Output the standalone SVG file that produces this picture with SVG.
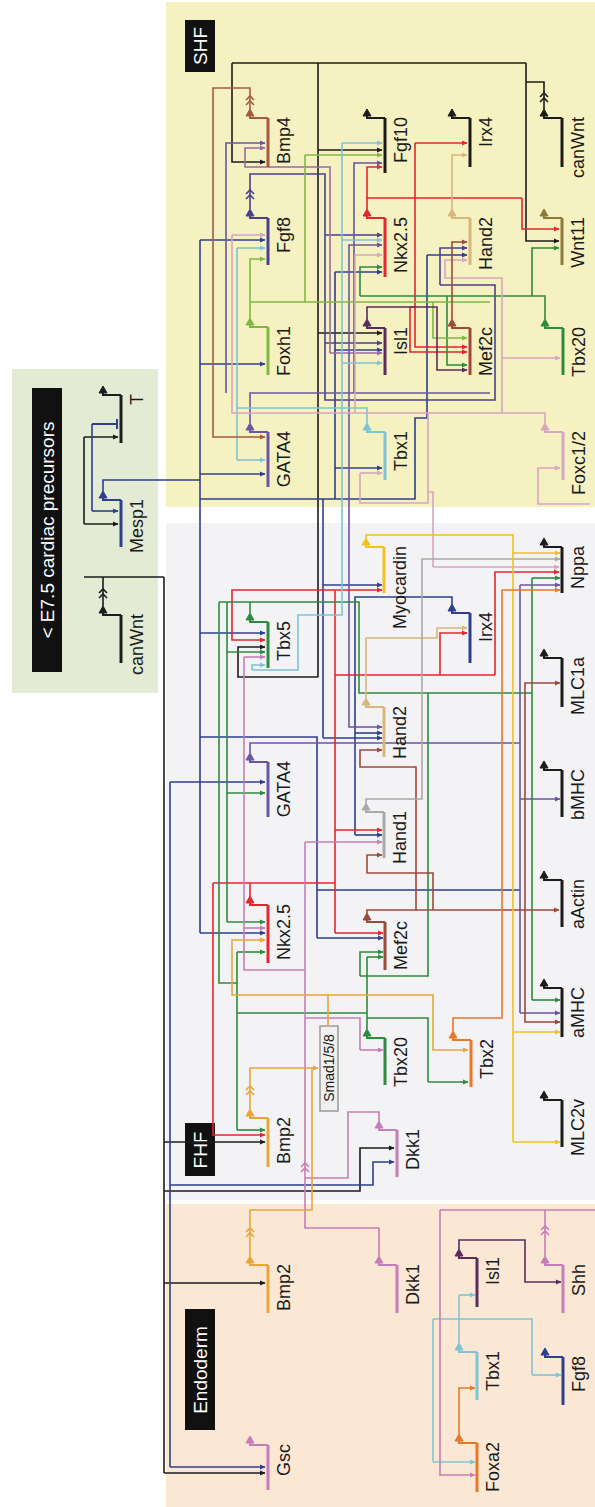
<svg xmlns="http://www.w3.org/2000/svg" width="595" height="1507" viewBox="0 0 595 1507">
<style>
text{font-family:"Liberation Sans",Arial,sans-serif;font-size:18px;fill:#1a1a1a;stroke:none}
.lbl{text-anchor:end}
.hd{font-size:19px;fill:#fff;text-anchor:middle}
.bar{stroke-width:3;fill:none}
.pr{stroke-width:2;fill:none}
#connectors path,#connectors polyline{fill:none;stroke-width:1.6}
.n-k{stroke:#1c1c1c;fill:#1c1c1c}.n-nv{stroke:#2e3f8c;fill:#2e3f8c}.n-fg{stroke:#4b3f8f;fill:#4b3f8f}
.n-pu{stroke:#6a55a3;fill:#6a55a3}.n-rd{stroke:#e3262f;fill:#e3262f}.n-gr{stroke:#2e8b3e;fill:#2e8b3e}
.n-lg{stroke:#80b843;fill:#80b843}.n-lb{stroke:#7fc4d6;fill:#7fc4d6}.n-pk{stroke:#c77db5;fill:#c77db5}
.n-lp{stroke:#d7a6bf;fill:#d7a6bf}.n-br{stroke:#9c4a3c;fill:#9c4a3c}.n-bb{stroke:#a65a3f;fill:#a65a3f}
.n-tn{stroke:#d6b77c;fill:#d6b77c}.n-gy{stroke:#a9a9a9;fill:#a9a9a9}.n-ye{stroke:#efc21c;fill:#efc21c}
.n-or{stroke:#e9a637;fill:#e9a637}.n-oo{stroke:#e5782a;fill:#e5782a}.n-ol{stroke:#8f7a3a;fill:#8f7a3a}
.n-dp{stroke:#5b2c5e;fill:#5b2c5e}
.c-k{stroke:#1c1c1c}.c-k .a{marker-end:url(#m-k)}
.c-nv{stroke:#2e3f8c}.c-nv .a{marker-end:url(#m-nv)}
.c-fg{stroke:#4b3f8f}.c-fg .a{marker-end:url(#m-fg)}
.c-mv{stroke:#9a6aa6}.c-mv .a{marker-end:url(#m-mv)}
.c-pu{stroke:#6a55a3}.c-pu .a{marker-end:url(#m-pu)}
.c-rd{stroke:#e3262f}.c-rd .a{marker-end:url(#m-rd)}
.c-gr{stroke:#2e8b3e}.c-gr .a{marker-end:url(#m-gr)}
.c-lg{stroke:#80b843}.c-lg .a{marker-end:url(#m-lg)}
.c-lb{stroke:#7fc4d6}.c-lb .a{marker-end:url(#m-lb)}
.c-lp{stroke:#d7a6bf}.c-lp .a{marker-end:url(#m-lp)}
.c-pk{stroke:#c77db5}.c-pk .a{marker-end:url(#m-pk)}
.c-br{stroke:#9c4a3c}.c-br .a{marker-end:url(#m-br)}
.c-bb{stroke:#a65a3f}.c-bb .a{marker-end:url(#m-bb)}
.c-tn{stroke:#d6b77c}.c-tn .a{marker-end:url(#m-tn)}
.c-gy{stroke:#a9a9a9}.c-gy .a{marker-end:url(#m-gy)}
.c-dp{stroke:#5b2c5e}.c-dp .a{marker-end:url(#m-dp)}
.c-ye{stroke:#efc21c}.c-ye .a{marker-end:url(#m-ye)}
.c-oo{stroke:#e5782a}.c-oo .a{marker-end:url(#m-oo)}
.c-or{stroke:#e9a637}.c-or .a{marker-end:url(#m-or)}
</style>
<defs>
<marker id="m-k" viewBox="0 0 6 6" refX="5.5" refY="3" markerWidth="6" markerHeight="6" markerUnits="userSpaceOnUse" orient="auto"><path d="M0,0.4L6,3L0,5.6Z" fill="#1c1c1c"/></marker>
<marker id="m-nv" viewBox="0 0 6 6" refX="5.5" refY="3" markerWidth="6" markerHeight="6" markerUnits="userSpaceOnUse" orient="auto"><path d="M0,0.4L6,3L0,5.6Z" fill="#2e3f8c"/></marker>
<marker id="m-fg" viewBox="0 0 6 6" refX="5.5" refY="3" markerWidth="6" markerHeight="6" markerUnits="userSpaceOnUse" orient="auto"><path d="M0,0.4L6,3L0,5.6Z" fill="#4b3f8f"/></marker>
<marker id="m-mv" viewBox="0 0 6 6" refX="5.5" refY="3" markerWidth="6" markerHeight="6" markerUnits="userSpaceOnUse" orient="auto"><path d="M0,0.4L6,3L0,5.6Z" fill="#9a6aa6"/></marker>
<marker id="m-pu" viewBox="0 0 6 6" refX="5.5" refY="3" markerWidth="6" markerHeight="6" markerUnits="userSpaceOnUse" orient="auto"><path d="M0,0.4L6,3L0,5.6Z" fill="#6a55a3"/></marker>
<marker id="m-rd" viewBox="0 0 6 6" refX="5.5" refY="3" markerWidth="6" markerHeight="6" markerUnits="userSpaceOnUse" orient="auto"><path d="M0,0.4L6,3L0,5.6Z" fill="#e3262f"/></marker>
<marker id="m-gr" viewBox="0 0 6 6" refX="5.5" refY="3" markerWidth="6" markerHeight="6" markerUnits="userSpaceOnUse" orient="auto"><path d="M0,0.4L6,3L0,5.6Z" fill="#2e8b3e"/></marker>
<marker id="m-lg" viewBox="0 0 6 6" refX="5.5" refY="3" markerWidth="6" markerHeight="6" markerUnits="userSpaceOnUse" orient="auto"><path d="M0,0.4L6,3L0,5.6Z" fill="#80b843"/></marker>
<marker id="m-lb" viewBox="0 0 6 6" refX="5.5" refY="3" markerWidth="6" markerHeight="6" markerUnits="userSpaceOnUse" orient="auto"><path d="M0,0.4L6,3L0,5.6Z" fill="#7fc4d6"/></marker>
<marker id="m-lp" viewBox="0 0 6 6" refX="5.5" refY="3" markerWidth="6" markerHeight="6" markerUnits="userSpaceOnUse" orient="auto"><path d="M0,0.4L6,3L0,5.6Z" fill="#d7a6bf"/></marker>
<marker id="m-pk" viewBox="0 0 6 6" refX="5.5" refY="3" markerWidth="6" markerHeight="6" markerUnits="userSpaceOnUse" orient="auto"><path d="M0,0.4L6,3L0,5.6Z" fill="#c77db5"/></marker>
<marker id="m-br" viewBox="0 0 6 6" refX="5.5" refY="3" markerWidth="6" markerHeight="6" markerUnits="userSpaceOnUse" orient="auto"><path d="M0,0.4L6,3L0,5.6Z" fill="#9c4a3c"/></marker>
<marker id="m-bb" viewBox="0 0 6 6" refX="5.5" refY="3" markerWidth="6" markerHeight="6" markerUnits="userSpaceOnUse" orient="auto"><path d="M0,0.4L6,3L0,5.6Z" fill="#a65a3f"/></marker>
<marker id="m-tn" viewBox="0 0 6 6" refX="5.5" refY="3" markerWidth="6" markerHeight="6" markerUnits="userSpaceOnUse" orient="auto"><path d="M0,0.4L6,3L0,5.6Z" fill="#d6b77c"/></marker>
<marker id="m-gy" viewBox="0 0 6 6" refX="5.5" refY="3" markerWidth="6" markerHeight="6" markerUnits="userSpaceOnUse" orient="auto"><path d="M0,0.4L6,3L0,5.6Z" fill="#a9a9a9"/></marker>
<marker id="m-dp" viewBox="0 0 6 6" refX="5.5" refY="3" markerWidth="6" markerHeight="6" markerUnits="userSpaceOnUse" orient="auto"><path d="M0,0.4L6,3L0,5.6Z" fill="#5b2c5e"/></marker>
<marker id="m-ye" viewBox="0 0 6 6" refX="5.5" refY="3" markerWidth="6" markerHeight="6" markerUnits="userSpaceOnUse" orient="auto"><path d="M0,0.4L6,3L0,5.6Z" fill="#efc21c"/></marker>
<marker id="m-oo" viewBox="0 0 6 6" refX="5.5" refY="3" markerWidth="6" markerHeight="6" markerUnits="userSpaceOnUse" orient="auto"><path d="M0,0.4L6,3L0,5.6Z" fill="#e5782a"/></marker>
<marker id="m-or" viewBox="0 0 6 6" refX="5.5" refY="3" markerWidth="6" markerHeight="6" markerUnits="userSpaceOnUse" orient="auto"><path d="M0,0.4L6,3L0,5.6Z" fill="#e9a637"/></marker>
</defs>

<g id="regions">
<rect x="166" y="2" width="429" height="505" fill="#f5f1c1"/>
<rect x="166" y="523" width="429" height="677" fill="#f3f3f5"/>
<rect x="166" y="1204" width="429" height="303" fill="#fbe8d4"/>
<rect x="12" y="369" width="146" height="324" fill="#e3ebd5"/>
</g>

<g id="headers">
<g id="hd-shf"><rect x="185" y="20" width="30" height="52" fill="#111"/><text class="hd" transform="translate(207,46) rotate(-90)">SHF</text></g>
<g id="hd-e75"><rect x="32" y="388" width="30" height="284" fill="#111"/><text class="hd" transform="translate(54,530) rotate(-90)">&lt; E7.5 cardiac precursors</text></g>
<g id="hd-fhf"><rect x="185" y="1123" width="30" height="53" fill="#111"/><text class="hd" transform="translate(207,1150) rotate(-90)">FHF</text></g>
<g id="hd-endo"><rect x="185" y="1309" width="30" height="121" fill="#111"/><text class="hd" transform="translate(207,1370) rotate(-90)">Endoderm</text></g>
<g id="smad"><rect x="320" y="1026" width="18" height="85" fill="#f0f0f0" stroke="#9a9a9a" stroke-width="1.5"/><text transform="translate(334,1068) rotate(-90)" style="font-size:14px;text-anchor:middle">Smad1/5/8</text></g>
</g>

<g id="connectors">
<g class="c-k">
<path d="M544,109V82H526M526,63H232M318,63V677M103,606V577M84,577H164M84,437V524M164,577V1473"/>
<path class="a" d="M526,63V241H559"/><path class="a" d="M232,63V162H265"/>
<path class="a" d="M318,150H382"/><path class="a" d="M318,333H382"/>
<path class="a" d="M318,677H238V647H265"/><path class="a" d="M84,437H118"/><path class="a" d="M84,524H118"/>
<path class="a" d="M164,1473H265"/><path class="a" d="M164,1142H265"/><path class="a" d="M164,1191H360V1148H394"/><path class="a" d="M164,1283H265"/>
<polyline points="540,97 544,93 548,97"/><polyline points="540,102 544,98 548,102"/>
<polyline points="99,593 103,589 107,593"/><polyline points="99,598 103,594 107,598"/>
</g>
<g class="c-nv">
<path d="M103,491V480H200M200,240V933M92,424V511M200,499H415V418H427V255M335,499V272M323,499V738M170,782V1467M200,737H317V938M452,604V597H355V835M317,890H520"/>
<path class="a" d="M200,240H265"/><path class="a" d="M200,364H265"/><path class="a" d="M200,474H265"/>
<path class="a" d="M200,633H265"/><path class="a" d="M200,933H265"/><path class="a" d="M92,511H118"/>
<path class="a" d="M427,255H467"/><path class="a" d="M335,272H382"/><path class="a" d="M335,350H382"/><path class="a" d="M335,468H382"/>
<path class="a" d="M323,585H382"/><path class="a" d="M323,738H382"/><path class="a" d="M317,938H383"/>
<path class="a" d="M170,1467H265"/><path class="a" d="M170,782H265"/><path class="a" d="M170,1185H373V1162H394"/>
<path class="a" d="M355,835H382"/><path class="a" d="M355,733H382"/>
<path d="M92,424H117M117,419V429" style="stroke-width:2"/>
</g>
<g class="c-fg">
<path d="M250,209V174H325V400H495V285H440"/>
<path class="a" d="M440,285V248H467"/><path class="a" d="M325,235H382"/><path class="a" d="M325,343H382"/>
<polyline points="246,194 250,190 254,194"/><polyline points="246,199 250,195 254,199"/>
</g>
<g class="c-mv">
<path class="a" d="M330,353V167H245V148H265"/><path class="a" d="M330,353H382"/>
</g>
<g class="c-pu">
<path d="M250,423V393H490M250,753V743H520M520,585V1013"/>
<path class="a" d="M226,393V143H265"/><path class="a" d="M349,393V245H382"/><path class="a" d="M354,393V163H382"/>
<path class="a" d="M349,393V727H382"/><path class="a" d="M520,585H560"/><path class="a" d="M520,799H560"/><path class="a" d="M520,1013H560"/>
</g>
<g class="c-rd">
<path d="M367,209V198H522M415,198V143M250,896V883H335M335,590V933M250,883H213M415,307H410M335,675H495"/>
<path class="a" d="M367,198V167H382"/><path class="a" d="M522,198V229H559"/><path class="a" d="M415,143H467"/>
<path class="a" d="M415,198V347H467"/><path class="a" d="M410,307V352H467"/><path class="a" d="M213,883V1135H265"/>
<path class="a" d="M335,933H383"/><path class="a" d="M335,590H382"/><path class="a" d="M335,590H232V640H265"/>
<path class="a" d="M335,830H382"/><path class="a" d="M495,675V572H559"/><path class="a" d="M440,675V633H467"/>
</g>
<g class="c-gr">
<path d="M545,319V296H360M250,613V602M219,602H359V693H532M227,602V922M237,952V1130M367,1029V957M428,693V976H360M532,578V1000M219,602V983H237M237,1013H367M367,1018H428V1082"/>
<path class="a" d="M360,296V267H382"/><path class="a" d="M532,296V248H559"/><path class="a" d="M447,296V365H467"/>
<path class="a" d="M227,922H265"/><path class="a" d="M227,793H265"/><path class="a" d="M227,652H265"/>
<path class="a" d="M237,952H265"/><path class="a" d="M237,1130H265"/><path class="a" d="M367,957H383"/>
<path class="a" d="M360,976V952H383"/><path class="a" d="M532,578H560"/><path class="a" d="M532,1000H560"/><path class="a" d="M428,1082H468"/>
</g>
<g class="c-lg">
<path d="M250,302H490M305,302V155"/>
<path class="a" d="M250,318V259H265"/><path class="a" d="M305,155H382"/><path class="a" d="M433,302V338H467"/>
</g>
<g class="c-lb">
<path d="M367,423V408H237M342,408V143M342,408V615H298V670H252M237,248V460M459,1343V1295M433,1319H532V1375M433,1319V1462"/>
<path class="a" d="M237,248H265"/><path class="a" d="M237,460H265"/><path class="a" d="M342,143H382"/>
<path class="a" d="M342,240H382"/><path class="a" d="M342,363H382"/><path class="a" d="M252,670V665H265"/>
<path class="a" d="M459,1295H475"/><path class="a" d="M532,1375H561"/><path class="a" d="M433,1462H475"/>
</g>
<g class="c-lp">
<path d="M545,423V413H232V235M428,413V492H433V567M428,413V503H360V473"/>
<path class="a" d="M232,235H265"/><path class="a" d="M433,567H559"/><path class="a" d="M360,473H382"/>
<path class="a" d="M355,413V255H382"/><path class="a" d="M502,413V358H560"/><path class="a" d="M590,504H538V468H560"/>
<path class="a" d="M502,358V278H445V260H467"/>
</g>
<g class="c-pk">
<path d="M379,1256V1228H305V842M305,970H244V657M379,1121V1112H348V1178H305M545,1256V1210H440M545,1210H595M305,1018H360V1050"/>
<path class="a" d="M305,842H382"/><path class="a" d="M244,657H265"/><path class="a" d="M244,928H265"/>
<path class="a" d="M360,1050H383"/><path class="a" d="M440,1210V1475H475"/>
<polyline points="301,1167 305,1163 309,1167"/><polyline points="301,1172 305,1168 309,1172"/>
<polyline points="541,1230 545,1226 549,1230"/><polyline points="541,1235 545,1231 549,1235"/>
</g>
<g class="c-br">
<path class="a" d="M452,319V242H467"/><path class="a" d="M367,913V910H559"/>
<path class="a" d="M416,910V767H360V750H382"/><path class="a" d="M525,910V683H560"/>
<path class="a" d="M525,910V1022H560"/><path class="a" d="M433,910V873H367V855H382"/>
</g>
<g class="c-bb">
<path class="a" d="M250,109V88H213V437H265"/>
<polyline points="246,100 250,96 254,100"/><polyline points="246,105 250,101 254,105"/>
</g>
<g class="c-tn">
<path class="a" d="M452,209V155H467"/><path class="a" d="M366,698V638H437V628H467"/>
</g>
<g class="c-gy"><path class="a" d="M366,803V799H422V559H560"/></g>
<g class="c-dp">
<path class="a" d="M367,319V307H437V370H467"/><path class="a" d="M459,1249V1240H525V1282H561"/>
</g>
<g class="c-ye">
<path d="M366,538V535H513V1142"/>
<path class="a" d="M513,1142H560"/><path class="a" d="M513,553H560"/><path class="a" d="M513,1032H560"/>
</g>
<g class="c-oo">
<path class="a" d="M453,1031V1018H502V590H560"/><path class="a" d="M459,1434V1388H475"/>
</g>
<g class="c-or">
<path class="a" d="M250,1109V1068H318"/><path d="M250,1256V1210H312V1068"/>
<path class="a" d="M328,1026V995H232V940H265"/><path class="a" d="M328,995H433V1050H468"/>
<polyline points="246,1090 250,1086 254,1090"/><polyline points="246,1095 250,1091 254,1095"/>
<polyline points="246,1232 250,1228 254,1232"/><polyline points="246,1237 250,1233 254,1237"/>
</g>
</g>

<g id="nodes">
<g id="shf-bmp4" class="n-bb"><path class="bar" d="M268,118V167"/><path class="pr" d="M268,118H250V114"/><path d="M250,109L246,116L254,116Z"/><text class="lbl" transform="translate(290,117) rotate(-90)">Bmp4</text></g>
<g id="shf-fgf8" class="n-fg"><path class="bar" d="M268,218V265"/><path class="pr" d="M268,218H250V214"/><path d="M250,209L246,216L254,216Z"/><text class="lbl" transform="translate(290,217) rotate(-90)">Fgf8</text></g>
<g id="shf-foxh1" class="n-lg"><path class="bar" d="M268,327V375"/><path class="pr" d="M268,327H250V323"/><path d="M250,318L246,325L254,325Z"/><text class="lbl" transform="translate(290,326) rotate(-90)">Foxh1</text></g>
<g id="shf-gata4" class="n-pu"><path class="bar" d="M268,432V487"/><path class="pr" d="M268,432H250V428"/><path d="M250,423L246,430L254,430Z"/><text class="lbl" transform="translate(290,431) rotate(-90)">GATA4</text></g>
<g id="shf-fgf10" class="n-k"><path class="bar" d="M385,118V173"/><path class="pr" d="M385,118H367V114"/><path d="M367,109L363,116L371,116Z"/><text class="lbl" transform="translate(407,117) rotate(-90)">Fgf10</text></g>
<g id="shf-nkx25" class="n-rd"><path class="bar" d="M385,218V277"/><path class="pr" d="M385,218H367V214"/><path d="M367,209L363,216L371,216Z"/><text class="lbl" transform="translate(407,217) rotate(-90)">Nkx2.5</text></g>
<g id="shf-isl1" class="n-dp"><path class="bar" d="M385,328V375"/><path class="pr" d="M385,328H367V324"/><path d="M367,319L363,326L371,326Z"/><text class="lbl" transform="translate(407,327) rotate(-90)">Isl1</text></g>
<g id="shf-tbx1" class="n-lb"><path class="bar" d="M385,432V480"/><path class="pr" d="M385,432H367V428"/><path d="M367,423L363,430L371,430Z"/><text class="lbl" transform="translate(407,431) rotate(-90)">Tbx1</text></g>
<g id="shf-irx4" class="n-k"><path class="bar" d="M470,118V167"/><path class="pr" d="M470,118H452V114"/><path d="M452,109L448,116L456,116Z"/><text class="lbl" transform="translate(492,117) rotate(-90)">Irx4</text></g>
<g id="shf-hand2" class="n-tn"><path class="bar" d="M470,218V265"/><path class="pr" d="M470,218H452V214"/><path d="M452,209L448,216L456,216Z"/><text class="lbl" transform="translate(492,217) rotate(-90)">Hand2</text></g>
<g id="shf-mef2c" class="n-br"><path class="bar" d="M470,328V375"/><path class="pr" d="M470,328H452V324"/><path d="M452,319L448,326L456,326Z"/><text class="lbl" transform="translate(492,327) rotate(-90)">Mef2c</text></g>
<g id="shf-canwnt" class="n-k"><path class="bar" d="M562,118V167"/><path class="pr" d="M562,118H544V114"/><path d="M544,109L540,116L548,116Z"/><text class="lbl" transform="translate(584,117) rotate(-90)">canWnt</text></g>
<g id="shf-wnt11" class="n-ol"><path class="bar" d="M562,218V265"/><path class="pr" d="M562,218H544V214"/><path d="M544,209L540,216L548,216Z"/><text class="lbl" transform="translate(584,217) rotate(-90)">Wnt11</text></g>
<g id="shf-tbx20" class="n-gr"><path class="bar" d="M563,328V375"/><path class="pr" d="M563,328H545V324"/><path d="M545,319L541,326L549,326Z"/><text class="lbl" transform="translate(585,327) rotate(-90)">Tbx20</text></g>
<g id="shf-foxc12" class="n-lp"><path class="bar" d="M563,432V480"/><path class="pr" d="M563,432H545V428"/><path d="M545,423L541,430L549,430Z"/><text class="lbl" transform="translate(585,431) rotate(-90)">Foxc1/2</text></g>

<g id="pre-t" class="n-k"><path class="bar" d="M121,395V443"/><path class="pr" d="M121,395H103V391"/><path d="M103,386L99,393L107,393Z"/><text class="lbl" transform="translate(143,394) rotate(-90)">T</text></g>
<g id="pre-mesp1" class="n-nv"><path class="bar" d="M121,500V547"/><path class="pr" d="M121,500H103V496"/><path d="M103,491L99,498L107,498Z"/><text class="lbl" transform="translate(143,499) rotate(-90)">Mesp1</text></g>
<g id="pre-canwnt" class="n-k"><path class="bar" d="M121,615V663"/><path class="pr" d="M121,615H103V611"/><path d="M103,606L99,613L107,613Z"/><text class="lbl" transform="translate(143,614) rotate(-90)">canWnt</text></g>

<g id="fhf-tbx5" class="n-gr"><path class="bar" d="M268,622V668"/><path class="pr" d="M268,622H250V618"/><path d="M250,613L246,620L254,620Z"/><text class="lbl" transform="translate(290,621) rotate(-90)">Tbx5</text></g>
<g id="fhf-gata4" class="n-pu"><path class="bar" d="M268,762V817"/><path class="pr" d="M268,762H250V758"/><path d="M250,753L246,760L254,760Z"/><text class="lbl" transform="translate(290,761) rotate(-90)">GATA4</text></g>
<g id="fhf-nkx25" class="n-rd"><path class="bar" d="M268,905V963"/><path class="pr" d="M268,905H250V901"/><path d="M250,896L246,903L254,903Z"/><text class="lbl" transform="translate(290,904) rotate(-90)">Nkx2.5</text></g>
<g id="fhf-bmp2" class="n-or"><path class="bar" d="M268,1118V1167"/><path class="pr" d="M268,1118H250V1114"/><path d="M250,1109L246,1116L254,1116Z"/><text class="lbl" transform="translate(290,1117) rotate(-90)">Bmp2</text></g>
<g id="fhf-myocardin" class="n-ye"><path class="bar" d="M384,547V593"/><path class="pr" d="M384,547H366V543"/><path d="M366,538L362,545L370,545Z"/><text class="lbl" transform="translate(406,546) rotate(-90)">Myocardin</text></g>
<g id="fhf-hand2" class="n-tn"><path class="bar" d="M384,707V757"/><path class="pr" d="M384,707H366V703"/><path d="M366,698L362,705L370,705Z"/><text class="lbl" transform="translate(406,706) rotate(-90)">Hand2</text></g>
<g id="fhf-hand1" class="n-gy"><path class="bar" d="M384,812V858"/><path class="pr" d="M384,812H366V808"/><path d="M366,803L362,810L370,810Z"/><text class="lbl" transform="translate(406,811) rotate(-90)">Hand1</text></g>
<g id="fhf-mef2c" class="n-br"><path class="bar" d="M385,922V970"/><path class="pr" d="M385,922H367V918"/><path d="M367,913L363,920L371,920Z"/><text class="lbl" transform="translate(407,921) rotate(-90)">Mef2c</text></g>
<g id="fhf-tbx20" class="n-gr"><path class="bar" d="M385,1038V1085"/><path class="pr" d="M385,1038H367V1034"/><path d="M367,1029L363,1036L371,1036Z"/><text class="lbl" transform="translate(407,1037) rotate(-90)">Tbx20</text></g>
<g id="fhf-dkk1" class="n-pk"><path class="bar" d="M397,1130V1177"/><path class="pr" d="M397,1130H379V1126"/><path d="M379,1121L375,1128L383,1128Z"/><text class="lbl" transform="translate(419,1129) rotate(-90)">Dkk1</text></g>
<g id="fhf-irx4" class="n-nv"><path class="bar" d="M470,613V663"/><path class="pr" d="M470,613H452V609"/><path d="M452,604L448,611L456,611Z"/><text class="lbl" transform="translate(492,612) rotate(-90)">Irx4</text></g>
<g id="fhf-tbx2" class="n-oo"><path class="bar" d="M471,1040V1087"/><path class="pr" d="M471,1040H453V1036"/><path d="M453,1031L449,1038L457,1038Z"/><text class="lbl" transform="translate(493,1039) rotate(-90)">Tbx2</text></g>
<g id="fhf-nppa" class="n-k"><path class="bar" d="M562,547V593"/><path class="pr" d="M562,547H544V543"/><path d="M544,538L540,545L548,545Z"/><text class="lbl" transform="translate(584,546) rotate(-90)">Nppa</text></g>
<g id="fhf-mlc1a" class="n-k"><path class="bar" d="M562,658V707"/><path class="pr" d="M562,658H544V654"/><path d="M544,649L540,656L548,656Z"/><text class="lbl" transform="translate(584,657) rotate(-90)">MLC1a</text></g>
<g id="fhf-bmhc" class="n-k"><path class="bar" d="M562,770V817"/><path class="pr" d="M562,770H544V766"/><path d="M544,761L540,768L548,768Z"/><text class="lbl" transform="translate(584,769) rotate(-90)">bMHC</text></g>
<g id="fhf-aactin" class="n-k"><path class="bar" d="M562,880V927"/><path class="pr" d="M562,880H544V876"/><path d="M544,871L540,878L548,878Z"/><text class="lbl" transform="translate(584,879) rotate(-90)">aActin</text></g>
<g id="fhf-amhc" class="n-k"><path class="bar" d="M562,988V1037"/><path class="pr" d="M562,988H544V984"/><path d="M544,979L540,986L548,986Z"/><text class="lbl" transform="translate(584,987) rotate(-90)">aMHC</text></g>
<g id="fhf-mlc2v" class="n-k"><path class="bar" d="M562,1100V1147"/><path class="pr" d="M562,1100H544V1096"/><path d="M544,1091L540,1098L548,1098Z"/><text class="lbl" transform="translate(584,1099) rotate(-90)">MLC2v</text></g>

<g id="en-bmp2" class="n-or"><path class="bar" d="M268,1265V1313"/><path class="pr" d="M268,1265H250V1261"/><path d="M250,1256L246,1263L254,1263Z"/><text class="lbl" transform="translate(290,1264) rotate(-90)">Bmp2</text></g>
<g id="en-gsc" class="n-pk"><path class="bar" d="M268,1445V1490"/><path class="pr" d="M268,1445H250V1441"/><path d="M250,1436L246,1443L254,1443Z"/><text class="lbl" transform="translate(290,1444) rotate(-90)">Gsc</text></g>
<g id="en-dkk1" class="n-pk"><path class="bar" d="M397,1265V1313"/><path class="pr" d="M397,1265H379V1261"/><path d="M379,1256L375,1263L383,1263Z"/><text class="lbl" transform="translate(419,1264) rotate(-90)">Dkk1</text></g>
<g id="en-isl1" class="n-dp"><path class="bar" d="M477,1258V1307"/><path class="pr" d="M477,1258H459V1254"/><path d="M459,1249L455,1256L463,1256Z"/><text class="lbl" transform="translate(499,1257) rotate(-90)">Isl1</text></g>
<g id="en-tbx1" class="n-lb"><path class="bar" d="M477,1352V1400"/><path class="pr" d="M477,1352H459V1348"/><path d="M459,1343L455,1350L463,1350Z"/><text class="lbl" transform="translate(499,1351) rotate(-90)">Tbx1</text></g>
<g id="en-foxa2" class="n-oo"><path class="bar" d="M477,1443V1492"/><path class="pr" d="M477,1443H459V1439"/><path d="M459,1434L455,1441L463,1441Z"/><text class="lbl" transform="translate(499,1442) rotate(-90)">Foxa2</text></g>
<g id="en-shh" class="n-pk"><path class="bar" d="M563,1265V1313"/><path class="pr" d="M563,1265H545V1261"/><path d="M545,1256L541,1263L549,1263Z"/><text class="lbl" transform="translate(585,1264) rotate(-90)">Shh</text></g>
<g id="en-fgf8" class="n-nv"><path class="bar" d="M563,1357V1405"/><path class="pr" d="M563,1357H545V1353"/><path d="M545,1348L541,1355L549,1355Z"/><text class="lbl" transform="translate(585,1356) rotate(-90)">Fgf8</text></g>
</g>
</svg>
